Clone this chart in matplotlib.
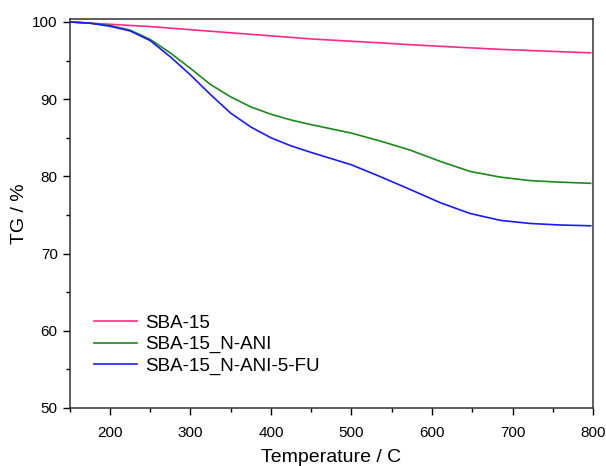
import numpy as np
import matplotlib.pyplot as plt
from matplotlib.ticker import MultipleLocator

plt.rcParams['font.family'] = ['Liberation Sans', 'DejaVu Sans']

# temperatures (C) and TG (%)
temp = [150, 175, 200, 225, 250, 275, 300, 325, 350, 375, 400, 425, 450, 475,
        500, 535, 573, 610, 647, 685, 722, 759, 797]
tg_sba = [100, 99.85, 99.7, 99.55, 99.4, 99.2, 99.0, 98.8, 98.6, 98.4, 98.2,
          98.0, 97.8, 97.65, 97.5, 97.3, 97.05, 96.85, 96.65, 96.45, 96.3,
          96.15, 96.0]
tg_ani = [100, 99.85, 99.55, 98.95, 97.75, 96.0, 94.0, 91.9, 90.3, 89.0, 88.05,
          87.3, 86.7, 86.15, 85.6, 84.6, 83.4, 81.95, 80.65, 79.9, 79.45,
          79.25, 79.1]
tg_fu = [100, 99.85, 99.45, 98.85, 97.6, 95.5, 93.15, 90.6, 88.2, 86.4, 85.0,
         83.95, 83.1, 82.3, 81.5, 80.0, 78.3, 76.6, 75.2, 74.3, 73.9, 73.7, 73.6]
labels = ['SBA-15', 'SBA-15_N-ANI', 'SBA-15_N-ANI-5-FU']
colors = ['#ff2a8a', '#1a8a1a', '#1a1aff']

fig = plt.figure(figsize=(6.06, 4.66), dpi=100)
ax = fig.add_axes([0.1147, 0.1245, 0.864, 0.835])

for y, lab, c in zip([tg_sba, tg_ani, tg_fu], labels, colors):
    ax.plot(temp, y, color=c, lw=1.2, label=lab)

ax.set_xlim(150, 800)
ax.set_ylim(50, 100.4)
ax.xaxis.set_major_locator(MultipleLocator(100))
ax.xaxis.set_minor_locator(MultipleLocator(50))
ax.yaxis.set_major_locator(MultipleLocator(10))
ax.yaxis.set_minor_locator(MultipleLocator(5))
ax.tick_params(which='major', direction='out', length=5, width=1, labelsize=11)
ax.tick_params(axis='x', which='major', pad=8)
ax.tick_params(which='minor', direction='out', length=3, width=1)
for s in ax.spines.values():
    s.set_linewidth(1.1)
    s.set_color('#333333')

ax.set_xlabel('Temperature / C', fontsize=14, labelpad=6.5)
ax.set_ylabel('TG / %', fontsize=14, labelpad=3)

ax.legend(loc='upper left', bbox_to_anchor=(0.015, 0.283), frameon=False,
          fontsize=13.5, handlelength=2.3, handletextpad=0.4, labelspacing=0.22)

fig.savefig('out.png', dpi=100)
